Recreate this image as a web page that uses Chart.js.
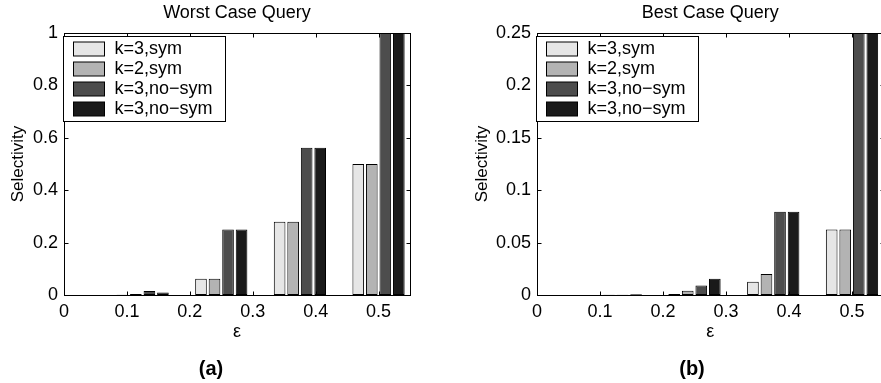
<!DOCTYPE html>
<html>
<head>
<meta charset="utf-8">
<script src="https://cdn.jsdelivr.net/npm/chart.js@4.4.1/dist/chart.umd.min.js"></script>
<style>
  body { margin:0; background:#fff; overflow:hidden; width:881px; height:383px; position:relative; font-family:"Liberation Sans", Arial, sans-serif; }
  canvas { position:absolute; top:0; }
  #worst { left:0; }
  #best { left:440px; }
  .panel-tag { position:absolute; top:357px; width:40px; margin-left:-20px; text-align:center; font-weight:bold; font-size:20px; line-height:22px; color:#000; }
</style>
</head>
<body>
<canvas id="worst" width="440" height="383"></canvas>
<canvas id="best" width="450" height="383"></canvas>
<div class="panel-tag" style="left:211px">(a)</div>
<div class="panel-tag" style="left:692px">(b)</div>
<script>
// epsilon groups
const epsilon = [0.125, 0.25, 0.375, 0.5];
const seriesLabels = ['k=3,sym', 'k=2,sym', 'k=3,no\u2212sym', 'k=3,no\u2212sym'];
const seriesColors = ['#e6e6e6', '#b3b3b3', '#4d4d4d', '#1a1a1a'];

// (a) worst case query
const worstK3Sym   = [0.001, 0.0625, 0.28, 0.5];
const worstK2Sym   = [0.004, 0.0625, 0.28, 0.5];
const worstK3NoSym = [0.0156, 0.25, 0.5625, 1];
const worstK3NoSymB = [0.0098, 0.25, 0.5625, 1];

// (b) best case query
const bestK3Sym   = [0.0001, 0.001, 0.0127, 0.0625];
const bestK2Sym   = [0.0003, 0.004, 0.02, 0.0625];
const bestK3NoSym = [0.0003, 0.009, 0.0795, 1];
const bestK3NoSymB = [0.0007, 0.0156, 0.0795, 1];

const xTicks = [0, 0.1, 0.2, 0.3, 0.4, 0.5];
const xTickLabels = ['0', '0.1', '0.2', '0.3', '0.4', '0.5'];
const worstTicks = [0, 0.2, 0.4, 0.6, 0.8, 1];
const worstTickLabels = ['0', '0.2', '0.4', '0.6', '0.8', '1'];
const bestTicks = [0, 0.05, 0.1, 0.15, 0.2, 0.25];
const bestTickLabels = ['0', '0.05', '0.1', '0.15', '0.2', '0.25'];

Chart.defaults.font.family = '"Liberation Sans", Arial, sans-serif';
Chart.defaults.color = '#000';

// matlab style box with inward ticks
const boxFrame = {
  id: 'boxFrame',
  afterDatasetsDraw(chart) {
    const { ctx, chartArea: a, scales: { x, y } } = chart;
    const L = Math.round(a.left) + 0.5, R = Math.round(a.right) + 0.5;
    const T = Math.round(a.top) + 0.5, B = Math.round(a.bottom) + 0.5;
    ctx.save();
    ctx.strokeStyle = '#000';
    ctx.lineWidth = 1;
    ctx.beginPath();
    x.ticks.forEach(t => {
      const px = Math.round(x.getPixelForValue(t.value)) + 0.5;
      ctx.moveTo(px, B); ctx.lineTo(px, B - 4);
      ctx.moveTo(px, T); ctx.lineTo(px, T + 4);
    });
    y.ticks.forEach(t => {
      const py = Math.round(y.getPixelForValue(t.value)) + 0.5;
      ctx.moveTo(L, py); ctx.lineTo(L + 4, py);
      ctx.moveTo(R, py); ctx.lineTo(R - 4, py);
    });
    ctx.stroke();
    ctx.strokeRect(L, T, R - L, B - T);
    ctx.restore();
  }
};

// legend box inside the plot, top left
const boxLegend = {
  id: 'boxLegend',
  afterDraw(chart) {
    const { ctx, chartArea: a } = chart;
    const left = Math.round(a.left) - 0.5, top = Math.round(a.top) + 3.5;
    ctx.save();
    ctx.fillStyle = '#fff';
    ctx.strokeStyle = '#000';
    ctx.lineWidth = 1;
    ctx.fillRect(left, top, 162, 85);
    ctx.strokeRect(left, top, 162, 85);
    ctx.font = '18px "Liberation Sans", Arial, sans-serif';
    ctx.textBaseline = 'middle';
    chart.data.datasets.forEach((ds, i) => {
      const sy = top + 5 + i * 20.3;
      ctx.fillStyle = ds.backgroundColor;
      ctx.fillRect(left + 10, Math.round(sy), 31, 14);
      ctx.strokeRect(left + 10, Math.round(sy), 31, 14);
      ctx.fillStyle = '#000';
      ctx.fillText(ds.label, left + 51, Math.round(sy) + 7.5);
    });
    ctx.restore();
  }
};

function makeChart(id, title, series, yMax, yTicks, yTickLabels, yWidth, pad) {
  return new Chart(document.getElementById(id), {
    type: 'bar',
    data: {
      datasets: series.map((vals, i) => ({
        label: seriesLabels[i],
        data: epsilon.map((e, j) => ({ x: e, y: vals[j] })),
        backgroundColor: seriesColors[i],
        borderColor: '#000',
        borderWidth: 1,
        borderSkipped: false,
        categoryPercentage: 0.86,
        barPercentage: 0.86
      }))
    },
    options: {
      responsive: false,
      animation: false,
      devicePixelRatio: 1,
      layout: { padding: pad },
      plugins: {
        legend: { display: false },
        tooltip: { enabled: false },
        title: {
          display: true, text: title, fullSize: false, color: '#000',
          font: { size: 18, weight: 'normal' }, padding: { top: 2, bottom: 9.4 }
        }
      },
      scales: {
        x: {
          type: 'linear', offset: false, min: 0, max: 0.55,
          grid: { display: false, drawTicks: false }, border: { display: false },
          afterBuildTicks: s => { s.ticks = xTicks.map(v => ({ value: v })); },
          ticks: { color: '#000', font: { size: 18 }, padding: 6, maxRotation: 0, autoSkip: false,
                   callback: (v, i) => xTickLabels[i] },
          title: { display: true, text: '\u03b5', color: '#000', font: { size: 18 }, padding: { top: 0, bottom: 2 } },
          afterFit: s => { s.height = 50; }
        },
        y: {
          min: 0, max: yMax,
          grid: { display: false, drawTicks: false }, border: { display: false },
          afterBuildTicks: s => { s.ticks = yTicks.map(v => ({ value: v })); },
          ticks: { color: '#000', font: { size: 18 }, padding: 6, autoSkip: false,
                   callback: (v, i) => yTickLabels[i] },
          title: { display: true, text: 'Selectivity', color: '#000', font: { size: 17 }, padding: { top: 8, bottom: 0 } },
          afterFit: s => { s.width = yWidth; }
        }
      }
    },
    plugins: [boxFrame, boxLegend]
  });
}

makeChart('worst', 'Worst Case Query',
  [worstK3Sym, worstK2Sym, worstK3NoSym, worstK3NoSymB],
  1, worstTicks, worstTickLabels, 64, { left: 0, right: 30, top: 0, bottom: 38 });

makeChart('best', 'Best Case Query',
  [bestK3Sym, bestK2Sym, bestK3NoSym, bestK3NoSymB],
  0.25, bestTicks, bestTickLabels, 73, { left: 24, right: 6.5, top: 0, bottom: 38 });
</script>
</body>
</html>
